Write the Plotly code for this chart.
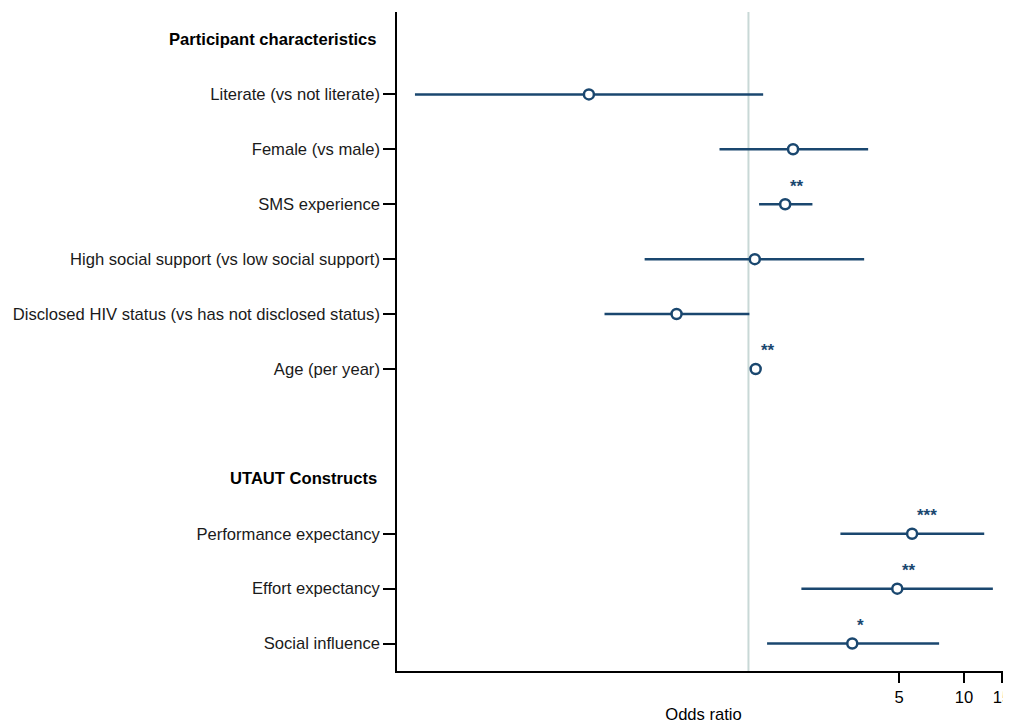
import math
import plotly.graph_objects as go

labels = ["Literate (vs not literate)", "Female (vs male)", "SMS experience",
          "High social support (vs low social support)",
          "Disclosed HIV status (vs has not disclosed status)", "Age (per year)",
          "Performance expectancy", "Effort expectancy", "Social influence"]
rows = [1, 2, 3, 4, 5, 6, 9, 10, 11]
odds = [0.182, 1.61, 1.48, 1.07, 0.464, 1.08, 5.74, 4.90, 3.03]
lower = [0.0284, 0.734, 1.12, 0.330, 0.215, 1.05, 2.67, 1.76, 1.22]
upper = [1.17, 3.59, 1.98, 3.44, 1.01, 1.11, 12.4, 13.6, 7.66]
stars = ["", "", "**", "", "", "**", "***", "**", "*"]
headers = ["Participant characteristics", "UTAUT Constructs"]
header_rows = [0, 8]
xticks = [5, 10, 15]

NAVY = "#1a476f"
FONT = "Liberation Sans, Arial, Helvetica, sans-serif"
FS = 16.6

fig = go.Figure()

# reference line at OR = 1
fig.add_shape(type="line", xref="x", yref="paper", x0=1, x1=1, y0=0, y1=1,
              line=dict(color="#c8d8d6", width=2), layer="below")

# CI lines
cx, cy = [], []
for lo, hi, r in zip(lower, upper, rows):
    cx += [lo, hi, None]
    cy += [r, r, None]
fig.add_trace(go.Scatter(x=cx, y=cy, mode="lines",
                         line=dict(color=NAVY, width=2.5), hoverinfo="skip",
                         showlegend=False))

# point estimates
fig.add_trace(go.Scatter(x=odds, y=rows, mode="markers",
                         marker=dict(symbol="circle", size=10, color="white",
                                     line=dict(color=NAVY, width=2.5)),
                         showlegend=False))

# significance stars (annotation x on a log axis is given in log10 units)
for o, r, s in zip(odds, rows, stars):
    if s:
        fig.add_annotation(x=math.log10(o), y=r, xref="x", yref="y",
                           text="<b>" + s + "</b>",
                           showarrow=False, xanchor="left", yanchor="middle",
                           xshift=3, yshift=18,
                           font=dict(family=FONT, size=17, color=NAVY))

# headers
for h, r in zip(headers, header_rows):
    fig.add_annotation(x=0, y=r, xref="paper", yref="y", text="<b>" + h + "</b>",
                       showarrow=False, xanchor="right", yanchor="middle",
                       xshift=-18, font=dict(family=FONT, size=FS, color="black"))

fig.update_xaxes(type="log", range=[-1.630, 1.213], tickvals=xticks,
                 ticktext=[str(t) for t in xticks], ticks="outside", ticklen=10,
                 tickwidth=1.5, tickcolor="black", showline=True, linecolor="black",
                 linewidth=1.5, showgrid=False, zeroline=False,
                 ticklabeloverflow="allow",
                 title=dict(text="Odds ratio", font=dict(family=FONT, size=FS, color="black"),
                            standoff=6),
                 tickfont=dict(family=FONT, size=FS, color="black"))
fig.update_yaxes(range=[11.5, -0.5], tickvals=rows, ticktext=labels,
                 ticks="outside", ticklen=12, tickwidth=1.5, tickcolor="black",
                 showline=True, linecolor="black", linewidth=1.5, showgrid=False,
                 zeroline=False, tickfont=dict(family=FONT, size=FS, color="#1a1a1a"))

# the page places the figure 8px in from the top-left corner
fig.update_layout(width=1003, height=716, plot_bgcolor="white", paper_bgcolor="white",
                  margin=dict(l=389, r=0, t=4, b=44), showlegend=False,
                  font=dict(family=FONT))

fig.write_html("out.html")
